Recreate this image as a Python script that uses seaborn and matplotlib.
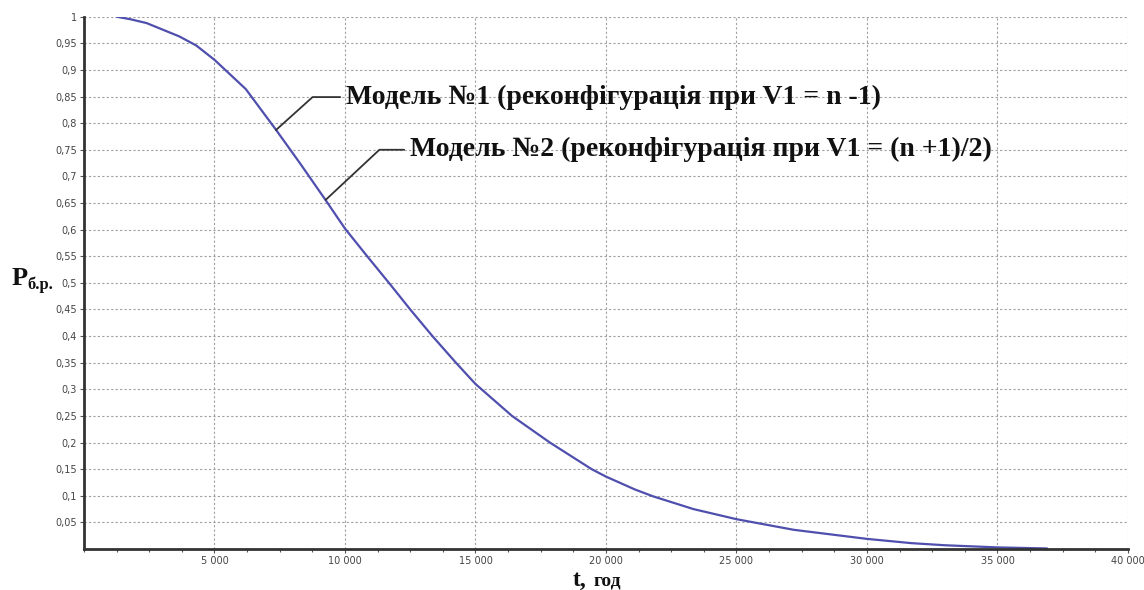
import pandas as pd
import matplotlib.pyplot as plt
import matplotlib.ticker as mticker
import seaborn as sns

sns.set_style('white')

# значення
t_years = [1250, 1800, 2400, 3650, 4300, 5000, 6200, 7350, 8300, 9250, 10000,
           10850, 11750, 12500, 13350, 14250, 15000, 16400, 17850, 19450,
           20000, 21100, 21800, 23350, 25000, 27200, 30000, 31700, 33000,
           35000, 36900]
p_values = [1.0, 0.995, 0.988, 0.963, 0.946, 0.919, 0.864, 0.788, 0.723, 0.656,
            0.602, 0.55, 0.496, 0.45, 0.40, 0.35, 0.31, 0.25, 0.20, 0.15,
            0.136, 0.112, 0.099, 0.075, 0.056, 0.036, 0.019, 0.011, 0.007,
            0.003, 0.001]

x_ticks = [5000, 10000, 15000, 20000, 25000, 30000, 35000, 40000]
y_ticks = [0.05, 0.1, 0.15, 0.2, 0.25, 0.3, 0.35, 0.4, 0.45, 0.5,
           0.55, 0.6, 0.65, 0.7, 0.75, 0.8, 0.85, 0.9, 0.95, 1.0]

label_1 = 'Модель №1 (реконфігурація при V1 = n -1)'
label_2 = 'Модель №2 (реконфігурація при V1 = (n +1)/2)'
# точки на кривій, до яких ведуть виноски
anchor_1 = (7355, 0.787)
anchor_2 = (9263, 0.656)

df = pd.DataFrame({'t': t_years, 'P': p_values})

fig = plt.figure(figsize=(11.44, 5.90), dpi=100)
ax = fig.add_axes([0.0734, 0.0695, 0.9126, 0.9022])

sns.lineplot(data=df, x='t', y='P', ax=ax, color='#4f4fae', linewidth=1.6)

ax.set_xlim(0, 40000)
ax.set_ylim(0, 1)
ax.set_xticks(x_ticks)
ax.set_yticks(y_ticks)
ax.xaxis.set_minor_locator(mticker.MultipleLocator(1250))


def fmt_x(v, pos):
    return f'{int(v):,}'.replace(',', ' ')


def fmt_y(v, pos):
    s = f'{v:.2f}'.rstrip('0').rstrip('.')
    return s.replace('.', ',')


ax.xaxis.set_major_formatter(mticker.FuncFormatter(fmt_x))
ax.yaxis.set_major_formatter(mticker.FuncFormatter(fmt_y))
ax.tick_params(axis='both', which='major', labelsize=7, labelcolor='#444444',
               length=3, width=0.8, color='#555555', pad=2, direction='out',
               bottom=True, left=True)
ax.tick_params(axis='x', which='minor', length=2, width=0.8, color='#555555',
               bottom=True)

ax.grid(True, which='major', color='#a0a0a0', linestyle=(0, (2, 2)), linewidth=0.8)
for side in ['top', 'right']:
    ax.spines[side].set_visible(False)
for side in ['left', 'bottom']:
    ax.spines[side].set_color('#333333')
    ax.spines[side].set_linewidth(2)
ax.set_xlabel('')
ax.set_ylabel('')

serif = ['Liberation Serif', 'DejaVu Serif']
ax.annotate(label_1, xy=anchor_1, xytext=(10050, 0.849),
            ha='left', va='center', fontsize=20, fontweight='bold', family=serif,
            color='#111111',
            arrowprops=dict(arrowstyle='-', color='#333333', lw=1.3,
                            shrinkA=2, shrinkB=0,
                            connectionstyle='angle,angleA=0,angleB=42,rad=0'))
ax.annotate(label_2, xy=anchor_2, xytext=(12500, 0.75),
            ha='left', va='center', fontsize=20, fontweight='bold', family=serif,
            color='#111111',
            arrowprops=dict(arrowstyle='-', color='#333333', lw=1.3,
                            shrinkA=2, shrinkB=0,
                            connectionstyle='angle,angleA=0,angleB=43,rad=0'))

# підписи осей
fig.text(0.010, 0.517, 'P', fontsize=19, fontweight='bold', family=serif,
         va='baseline', ha='left', color='#111111')
fig.text(0.0235, 0.511, 'б.р.', fontsize=12, fontweight='bold', family=serif,
         va='baseline', ha='left', color='#111111')
fig.text(0.501, 0.007, 't,', fontsize=17, fontweight='bold', family=serif,
         va='baseline', ha='left', color='#111111')
fig.text(0.519, 0.007, 'год', fontsize=14, fontweight='bold', family=serif,
         va='baseline', ha='left', color='#111111')

fig.savefig('out.png', dpi=100)
plt.close(fig)
